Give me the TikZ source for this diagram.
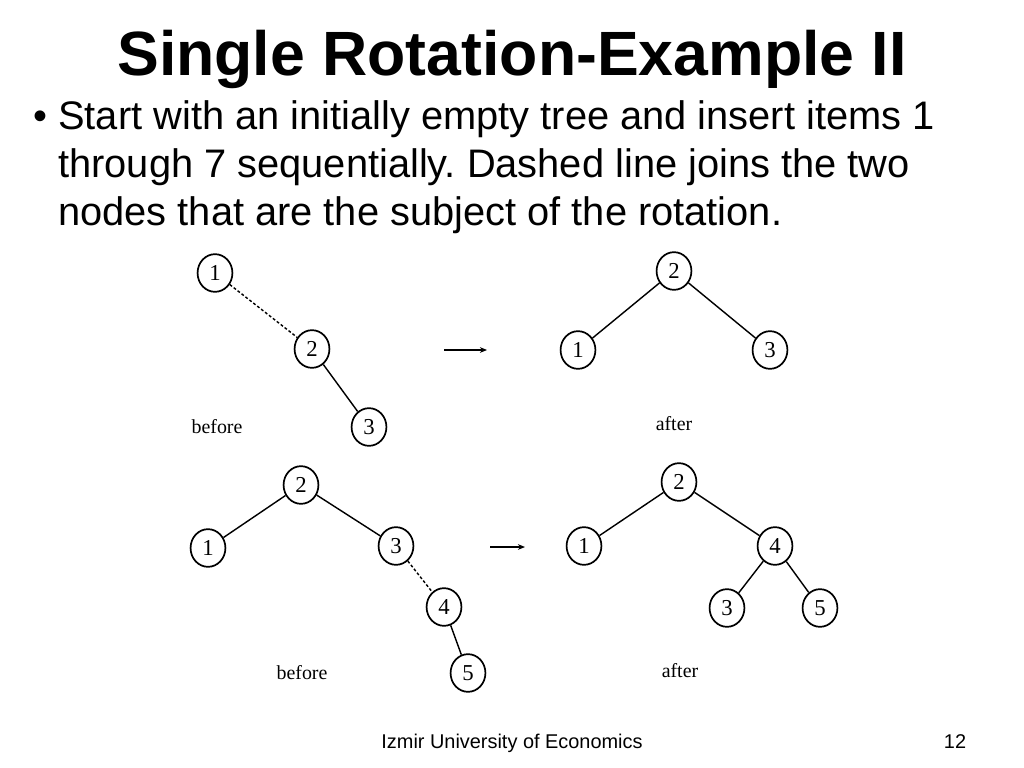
\documentclass[tikz,border=0pt]{standalone}
\usepackage{fontspec}
\setmainfont{Liberation Sans}
\newfontfamily\trfont{Liberation Serif}
\usetikzlibrary{shapes.geometric,arrows.meta}
\frenchspacing
\begin{document}
\begin{tikzpicture}[x=0.703125pt,y=-0.703125pt,
  tn/.style={ellipse,draw,line width=1.2pt,minimum width=24.5pt,minimum height=26.5pt,inner sep=0pt,font=\trfont\fontsize{16}{16}\selectfont},
  edge/.style={line width=1pt},
  rot/.style={line width=1pt,dash pattern=on 2pt off 1.5pt},
  tlabel/.style={font=\trfont\fontsize{14}{14}\selectfont},
  arr/.style={line width=1pt,-{Stealth[length=5pt,width=4pt]}},
  body/.style={anchor=base west,inner sep=0pt,font=\fontsize{28}{34}\selectfont}]
\useasboundingbox[fill=white] (0,0) rectangle (1024,768);
% title
\node[anchor=base,inner sep=0pt,font=\bfseries\fontsize{44}{50}\selectfont] (title) at (512,76) {Single Rotation-Example II};
% bullet text
\node[body,anchor=base east] (bul) at (48,130) {\textbullet};
\node[body] (l1) at (58,130) {Start with an initially empty tree and insert items 1};
\node[body] (l2) at (58,178) {through 7 sequentially. Dashed line joins the two};
\node[body] (l3) at (58,226) {nodes that are the subject of the rotation.};
% top before
\node[tn] (a1) at (215,273) {1};
\node[tn] (a2) at (312,349) {2};
\node[tn] (a3) at (369,427) {3};
\draw[rot] (a1) -- (a2);
\draw[edge] (a2) -- (a3);
\node[tlabel] (lb1) at (217,427) {before};
% arrow top
\coordinate (ta) at (444,350);
\coordinate (tb) at (487,350);
\draw[arr] (ta) -- (tb);
% top after
\node[tn] (b2) at (674,271) {2};
\node[tn] (b1) at (578,350) {1};
\node[tn] (b3) at (770,350) {3};
\draw[edge] (b2) -- (b1);
\draw[edge] (b2) -- (b3);
\node[tlabel] (la1) at (674,424) {after};
% bottom before
\node[tn] (c2) at (301,485) {2};
\node[tn] (c1) at (208,548) {1};
\node[tn] (c3) at (396,546) {3};
\node[tn] (c4) at (444,607) {4};
\node[tn] (c5) at (468,673) {5};
\draw[edge] (c2) -- (c1);
\draw[edge] (c2) -- (c3);
\draw[rot] (c3) -- (c4);
\draw[edge] (c4) -- (c5);
\node[tlabel] (lb2) at (302,673) {before};
% arrow bottom
\coordinate (ba) at (490,547);
\coordinate (bb) at (525,547);
\draw[arr] (ba) -- (bb);
% bottom after
\node[tn] (d2) at (679,482) {2};
\node[tn] (d1) at (584,546) {1};
\node[tn] (d4) at (775,546) {4};
\node[tn] (d3) at (727,608) {3};
\node[tn] (d5) at (820,608) {5};
\draw[edge] (d2) -- (d1);
\draw[edge] (d2) -- (d4);
\draw[edge] (d4) -- (d3);
\draw[edge] (d4) -- (d5);
\node[tlabel] (la2) at (680,671) {after};
% footer
\node[anchor=base,inner sep=0pt,font=\fontsize{14}{16}\selectfont] (foot) at (512,748) {Izmir University of Economics};
\node[anchor=base,inner sep=0pt,font=\fontsize{14}{16}\selectfont] (pg) at (955,748) {12};
\end{tikzpicture}
\end{document}
